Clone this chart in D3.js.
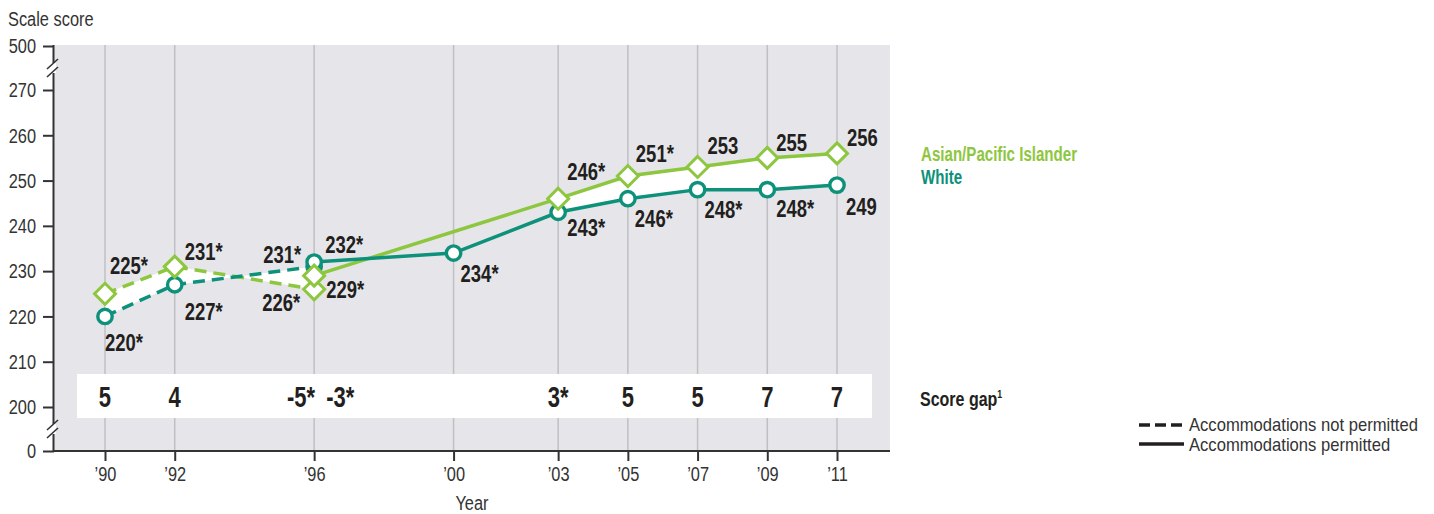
<!DOCTYPE html>
<html>
<head>
<meta charset="utf-8">
<script src="https://cdn.jsdelivr.net/npm/d3@7"></script>
<style>
  html, body { margin: 0; padding: 0; background: #fff; }
  svg { display: block; }
  text { font-family: "Liberation Sans", Arial, sans-serif; }
</style>
</head>
<body>
<svg id="chart" width="1434" height="514"></svg>
<script>
// ---------------- data ----------------
const years        = [1990, 1992, 1996, 1996, 2000, 2003, 2005, 2007, 2009, 2011];
const permitted    = [false, false, false, true, true, true, true, true, true, true];
const asianScores  = [225, 231, 226, 229, null, 246, 251, 253, 255, 256];
const asianSig     = [true, true, true, true, false, true, true, false, false, false];
const whiteScores  = [220, 227, 231, 232, 234, 243, 246, 248, 248, 249];
const whiteSig     = [true, true, true, true, true, true, true, true, true, false];
const gapLabels    = ["5", "4", "-5*", "-3*", "", "3*", "5", "5", "7", "7"];
const xTickYears   = [1990, 1992, 1996, 2000, 2003, 2005, 2007, 2009, 2011];
const xTickLabels  = ["’90", "’92", "’96", "’00", "’03", "’05", "’07", "’09", "’11"];
const yTickValues  = [0, 200, 210, 220, 230, 240, 250, 260, 270, 500];
const seriesNames  = ["Asian/Pacific Islander", "White"];

// label placement (annotation offsets: dx, baseline dy, anchor)
const asianLabelPos = [[5,-20,"start"],[10,-7,"start"],[-14,22,"end"],[12,22,"start"],[0,0,"start"],
                       [9,-19,"start"],[8,-14,"start"],[10,-13,"start"],[9,-7,"start"],[10,-7,"start"]];
const whiteLabelPos = [[0,35,"start"],[10,35,"start"],[-13,-4,"end"],[11,-9,"start"],[7,29,"start"],
                       [9,24,"start"],[7,28,"start"],[7,28,"start"],[9,27,"start"],[9,30,"start"]];
const gapPos        = [[0,"middle"],[0,"middle"],[1,"end"],[12,"start"],[0,"middle"],
                       [0,"middle"],[0,"middle"],[0,"middle"],[0,"middle"],[0,"middle"]];

// ---------------- setup ----------------
const ASIAN = "#8dc63f", WHITE = "#0e917a", INK = "#231f20", AXIS = "#333";
const plot = {left: 54, right: 890, top: 45, bottom: 451};
const SX_REG = 0.78, SX_BOLD = 0.77;

// horizontally condense text (reference uses a condensed face)
function condense(sel, sx) {
  sel.each(function () {
    const t = d3.select(this);
    const xv = +t.attr("x") || 0;
    t.attr("x", xv / sx).attr("transform", `scale(${sx},1)`);
  });
  return sel;
}

const svg = d3.select("#chart");
const x = d3.scaleLinear().domain([1990, 2011]).range([105, 837]);
const y = d3.scaleLinear().domain([0, 200, 270, 500]).range([451, 407, 90, 46]);

const rows = years.map((yr, i) => ({
  i, year: yr, permitted: permitted[i],
  asian: asianScores[i], white: whiteScores[i],
  asianLabel: asianScores[i] == null ? "" : asianScores[i] + (asianSig[i] ? "*" : ""),
  whiteLabel: whiteScores[i] + (whiteSig[i] ? "*" : ""),
  gap: gapLabels[i]
}));

// background
svg.append("rect").attr("x", plot.left).attr("y", plot.top)
  .attr("width", plot.right - plot.left).attr("height", plot.bottom - plot.top)
  .attr("fill", "#e6e6ea");

// gridlines
svg.append("g").selectAll("line").data(xTickYears).join("line")
  .attr("x1", d => x(d)).attr("x2", d => x(d))
  .attr("y1", plot.top).attr("y2", plot.bottom)
  .attr("stroke", "#bfbfc4").attr("stroke-width", 1.5);

// score gap band
svg.append("rect").attr("x", 77).attr("y", 374).attr("width", 872 - 77).attr("height", 44).attr("fill", "#fff");
condense(svg.append("g").selectAll("text").data(rows.filter(r => r.gap !== "")).join("text")
  .attr("x", r => x(r.year) + gapPos[r.i][0])
  .attr("y", 407)
  .attr("text-anchor", r => gapPos[r.i][1])
  .attr("font-size", 29).attr("font-weight", "bold").attr("fill", INK)
  .text(r => r.gap), 0.76);

// fill between series
const area = d3.area()
  .defined(r => r.asian != null && r.white != null)
  .x(r => x(r.year)).y0(r => y(r.white)).y1(r => y(r.asian));
const notPerm = rows.filter(r => !r.permitted);
const perm = rows.filter(r => r.permitted);
svg.append("path").datum(notPerm).attr("d", area).attr("fill", "#fff");
svg.append("path").datum(perm).attr("d", area).attr("fill", "#fff");

// lines
function drawLine(data, key, color, dashed) {
  const line = d3.line().x(r => x(r.year)).y(r => y(r[key]));
  svg.append("path").datum(data.filter(r => r[key] != null))
    .attr("d", line).attr("fill", "none").attr("stroke", color)
    .attr("stroke-width", 3.5)
    .attr("stroke-dasharray", dashed ? "12,7" : null);
}
drawLine(notPerm, "asian", ASIAN, true);
drawLine(notPerm, "white", WHITE, true);
drawLine(perm, "asian", ASIAN, false);
drawLine(perm, "white", WHITE, false);

// markers
svg.append("g").selectAll("circle").data(rows).join("circle")
  .attr("cx", r => x(r.year)).attr("cy", r => y(r.white)).attr("r", 7.2)
  .attr("fill", "#fff").attr("stroke", WHITE).attr("stroke-width", 3.4);
const dia = 10.5;
svg.append("g").selectAll("path").data(rows.filter(r => r.asian != null)).join("path")
  .attr("d", r => {
    const cx = x(r.year), cy = y(r.asian);
    return `M${cx},${cy - dia}L${cx + dia},${cy}L${cx},${cy + dia}L${cx - dia},${cy}Z`;
  })
  .attr("fill", "#fff").attr("stroke", ASIAN).attr("stroke-width", 3);

// value labels
condense(svg.append("g").selectAll("text").data(rows.filter(r => r.asian != null)).join("text")
  .attr("x", r => x(r.year) + asianLabelPos[r.i][0])
  .attr("y", r => y(r.asian) + asianLabelPos[r.i][1])
  .attr("text-anchor", r => asianLabelPos[r.i][2])
  .attr("font-size", 24).attr("font-weight", "bold").attr("fill", INK)
  .text(r => r.asianLabel), SX_BOLD);
condense(svg.append("g").selectAll("text").data(rows).join("text")
  .attr("x", r => x(r.year) + whiteLabelPos[r.i][0])
  .attr("y", r => y(r.white) + whiteLabelPos[r.i][1])
  .attr("text-anchor", r => whiteLabelPos[r.i][2])
  .attr("font-size", 24).attr("font-weight", "bold").attr("fill", INK)
  .text(r => r.whiteLabel), SX_BOLD);

// y axis
const yAxis = d3.axisLeft(y).tickValues(yTickValues).tickSize(11).tickPadding(7).tickFormat(d3.format("d"));
const gy = svg.append("g").attr("transform", `translate(${plot.left},0)`).call(yAxis);
gy.select(".domain").attr("d", `M-0.5,${plot.top}V${plot.bottom}`).attr("stroke", AXIS).attr("stroke-width", 2);
gy.selectAll(".tick line").attr("stroke", AXIS).attr("stroke-width", 2);
condense(gy.selectAll(".tick text").attr("font-size", 21).attr("fill", AXIS)
  .style("font-family", '"Liberation Sans", Arial, sans-serif'), SX_REG);

// axis breaks
function axisBreak(cy) {
  svg.append("rect").attr("x", plot.left - 3).attr("y", cy - 5).attr("width", 5).attr("height", 10).attr("fill", "#fff");
  [-4, 4].forEach(off => {
    svg.append("line").attr("x1", plot.left - 7).attr("y1", cy + off + 5)
      .attr("x2", plot.left + 4).attr("y2", cy + off - 5)
      .attr("stroke", AXIS).attr("stroke-width", 1.6);
  });
}
axisBreak(y(385));
axisBreak(y(100));

// x axis
const xAxis = d3.axisBottom(x).tickValues(xTickYears).tickSize(10).tickPadding(5)
  .tickFormat((d, i) => xTickLabels[i]);
const gx = svg.append("g").attr("transform", `translate(0,${plot.bottom})`).call(xAxis);
gx.select(".domain").attr("d", `M${plot.left - 1},0H${plot.right}`).attr("stroke", AXIS).attr("stroke-width", 2);
gx.selectAll(".tick line").attr("stroke", AXIS).attr("stroke-width", 2);
condense(gx.selectAll(".tick text").attr("font-size", 21).attr("fill", AXIS)
  .style("font-family", '"Liberation Sans", Arial, sans-serif'), SX_REG);

// axis titles
condense(svg.append("text").attr("x", 8).attr("y", 26).attr("font-size", 21).attr("fill", AXIS).text("Scale score"), SX_REG);
condense(svg.append("text").attr("x", (plot.left + plot.right) / 2).attr("y", 510).attr("text-anchor", "middle")
  .attr("font-size", 21).attr("fill", AXIS).text("Year"), SX_REG);

// series legend
condense(svg.append("text").attr("x", 921).attr("y", 161).attr("font-size", 20).attr("font-weight", "bold")
  .attr("fill", ASIAN).text(seriesNames[0]), 0.755);
condense(svg.append("text").attr("x", 921).attr("y", 184).attr("font-size", 20).attr("font-weight", "bold")
  .attr("fill", WHITE).text(seriesNames[1]), 0.755);

// score gap label
const sg = svg.append("text").attr("x", 920).attr("y", 406).attr("font-size", 20).attr("font-weight", "bold").attr("fill", INK);
sg.append("tspan").text("Score gap");
sg.append("tspan").attr("font-size", 11).attr("dy", -8).text("1");
condense(sg, 0.8);

// line style legend
svg.append("line").attr("x1", 1139).attr("x2", 1184).attr("y1", 425).attr("y2", 425)
  .attr("stroke", INK).attr("stroke-width", 3.5).attr("stroke-dasharray", "11,5");
condense(svg.append("text").attr("x", 1189).attr("y", 431).attr("font-size", 17.5).attr("fill", AXIS)
  .text("Accommodations not permitted"), 0.95);
svg.append("line").attr("x1", 1139).attr("x2", 1184).attr("y1", 444).attr("y2", 444)
  .attr("stroke", INK).attr("stroke-width", 3.5);
condense(svg.append("text").attr("x", 1189).attr("y", 451).attr("font-size", 17.5).attr("fill", AXIS)
  .text("Accommodations permitted"), 0.95);
</script>
</body>
</html>
